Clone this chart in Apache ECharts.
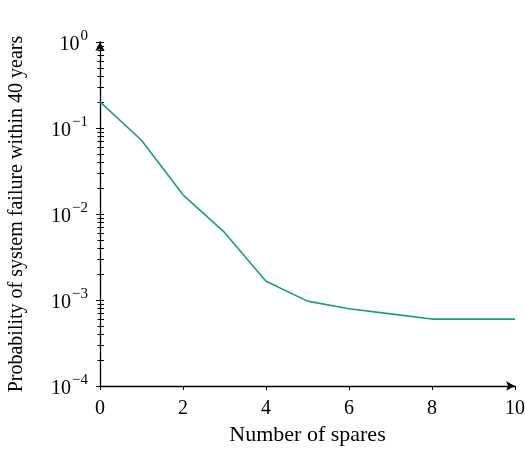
<!DOCTYPE html>
<html><head><meta charset="utf-8">
<script src="https://cdn.jsdelivr.net/npm/echarts@6/dist/echarts.min.js"></script>
<style>html,body{margin:0;padding:0;background:#fff}#c{width:525px;height:450px}</style>
</head><body><div id="c"></div>
<script>
var spares = [0,1,2,3,4,5,6,7,8,9,10];
var failureProb = [0.201,0.072,0.0167,0.0061,0.00165,0.00097,0.00079,0.00069,0.0006,0.0006,0.0006];
var xTicks = [0,2,4,6,8,10];
var yMajor = [1e-4,1e-3,1e-2,1e-1,1];
var yMinor = [];
for (var e = -4; e < 0; e++) for (var m = 2; m <= 9; m++) yMinor.push(m * Math.pow(10, e));

var font = '"Liberation Serif","DejaVu Serif",serif';
var chart = echarts.init(document.getElementById('c'));
var supFmt = function(v){
  var ex = Math.round(Math.log10(v));
  return '{b|10}{s|' + (ex < 0 ? '\u2212' + (-ex) : ex) + '}';
};
var baseY = {type:'log', min:1e-4, max:1, logBase:10, splitLine:{show:false}, position:'left'};
chart.setOption({
  animation:false,
  grid:{left:100, right:10, top:42, bottom:64, outerBoundsMode:'none', containLabel:false},
  xAxis:{type:'value', min:0, max:10, interval:2,
    name:'Number of spares', nameLocation:'middle', nameGap:14,
    nameTextStyle:{fontFamily:font, fontSize:22, color:'#000', verticalAlign:'top'},
    axisLine:{lineStyle:{color:'#000', width:1.3}, symbol:['none','arrow'], symbolSize:[7,9]},
    axisTick:{show:true, length:4, lineStyle:{color:'#000'}},
    axisLabel:{fontFamily:font, fontSize:20, color:'#000', margin:13, showMaxLabel:true, showMinLabel:true,
      customValues: xTicks},
    splitLine:{show:false}},
  yAxis:[
    Object.assign({}, baseY, {
      name:'Probability of system failure within 40 years', nameLocation:'middle', nameGap:73,
      nameTextStyle:{fontFamily:font, fontSize:20, color:'#000'},
      axisLine:{show:true, lineStyle:{color:'#000', width:1.3}, symbol:['none','arrow'], symbolSize:[7,9]},
      axisTick:{show:true, length:4, lineStyle:{color:'#000'}, customValues: yMajor},
      axisLabel:{margin:12, formatter:supFmt,
        customValues: yMajor,
        rich:{b:{fontFamily:font, fontSize:20, color:'#000', padding:[6,0,0,0]},
              s:{fontFamily:font, fontSize:15, color:'#000', verticalAlign:'top', padding:[0,0,8,1]}}}
    }),
    Object.assign({}, baseY, {
      axisLine:{show:false},
      axisTick:{show:true, inside:true, length:4, lineStyle:{color:'#000'}, customValues: yMajor.concat(yMinor)},
      axisLabel:{show:false}
    }),
    Object.assign({}, baseY, {
      axisLine:{show:false},
      axisTick:{show:true, length:2.5, lineStyle:{color:'#000'}, customValues: yMinor},
      axisLabel:{show:false}
    })
  ],
  series:[{type:'line', yAxisIndex:0, data: spares.map(function(s,i){return [s, failureProb[i]];}),
    showSymbol:false, lineStyle:{color:'#1b9e77', width:1.6}, itemStyle:{color:'#1b9e77'}}]
});
</script></body></html>
